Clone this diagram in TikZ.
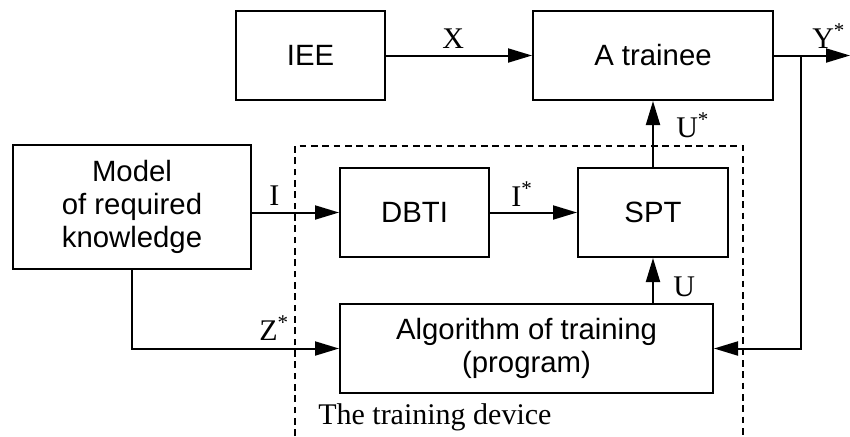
\documentclass[tikz,border=0pt]{standalone}
\usepackage{fontspec}
\setmainfont{Liberation Sans}
\newfontfamily\labfont{Liberation Serif}
\usetikzlibrary{arrows.meta}
\tikzset{
  blk/.style={draw, line width=1.5pt, inner sep=0pt, align=center,
    font=\fontsize{22}{25}\selectfont},
  conn/.style={line width=1.5pt},
  arr/.style={conn, -{Triangle[length=18pt,width=10.5pt]}},
  lbl/.style={font=\labfont\fontsize{22.5}{25}\selectfont, inner sep=0pt, anchor=base west},
  frame/.style={line width=0.8pt, dash pattern=on 5pt off 3.5pt}
}
\begin{document}
\begin{tikzpicture}[x=0.75pt,y=-0.75pt]
\useasboundingbox (0,0) rectangle (850,436);
% dashed training device frame
\draw[frame] (295,436) -- (295,146) -- (743,146) -- (743,436);
% blocks
\node[blk, minimum width=149*0.75pt, minimum height=89*0.75pt] (iee) at (310.5,55.5) {IEE};
\node[blk, minimum width=240*0.75pt, minimum height=89*0.75pt] (tr) at (653,55.5) {A trainee};
\node[blk, minimum width=238*0.75pt, minimum height=124*0.75pt] (mod) at (132,207) {Model\\of required\\knowledge};
\node[blk, minimum width=149*0.75pt, minimum height=89*0.75pt] (dbti) at (414.5,212.5) {DBTI};
\node[blk, minimum width=150*0.75pt, minimum height=89*0.75pt] (spt) at (653,212.5) {SPT};
\node[blk, minimum width=373*0.75pt, minimum height=89*0.75pt] (alg) at (526.5,348.5) {Algorithm of training\\(program)};
% coordinates
\coordinate (yout) at (850,55.5);
\coordinate (br) at (801,55.5);
\coordinate (brd) at (801,348.5);
\coordinate (zc) at (mod.south |- alg.west);
% connectors
\draw[arr] (iee.east) -- (tr.west);
\draw[arr] (tr.east) -- (yout);
\draw[arr] (br) -- (brd) -- (alg.east);
\draw[arr] (spt.north) -- (tr.south);
\draw[arr] (dbti.west -| mod.east) -- (dbti.west);
\draw[arr] (dbti.east) -- (spt.west);
\draw[arr] (alg.north -| spt.south) -- (spt.south);
\draw[arr] (mod.south) -- (zc) -- (alg.west);
% labels
\node[lbl] (lx) at (442,48) {X};
\node[lbl] (ly) at (812,48) {Y\textsuperscript{*}};
\node[lbl] (lus) at (676,137) {U\textsuperscript{*}};
\node[lbl] (li) at (269,205) {I};
\node[lbl] (lis) at (511,206) {I\textsuperscript{*}};
\node[lbl] (lu) at (673,296) {U};
\node[lbl] (lz) at (259,340) {Z\textsuperscript{*}};
\node[lbl] (ldev) at (318,424) {The training device};
\end{tikzpicture}
\end{document}
